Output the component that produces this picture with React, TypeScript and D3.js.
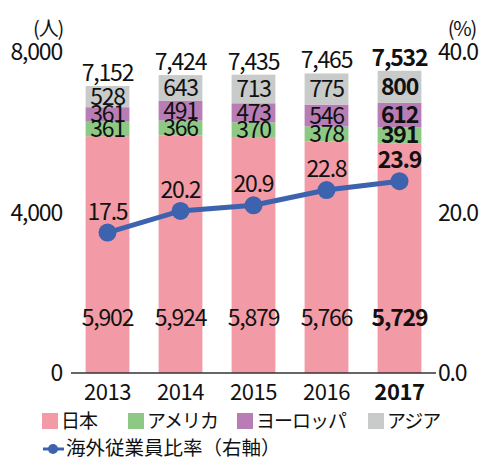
import React, { useEffect, useRef } from 'react';
import * as d3 from 'd3';

// データ
const years = ['2013', '2014', '2015', '2016', '2017'];
const japan = [5902, 5924, 5879, 5766, 5729];
const america = [361, 366, 370, 378, 391];
const europe = [361, 491, 473, 546, 612];
const asia = [528, 643, 713, 775, 800];
const totals = [7152, 7424, 7435, 7465, 7532];
const ratio = [17.5, 20.2, 20.9, 22.8, 23.9];
const leftTicks = [0, 4000, 8000];
const rightTicks = [0, 20, 40];

const seriesNames = ['日本', 'アメリカ', 'ヨーロッパ', 'アジア'];
const colors = ['#f29ba6', '#8dc985', '#b97db6', '#c9caca'];
const lineColor = '#3d62ae';
const font = '"Noto Sans CJK JP", "Noto Sans", sans-serif';

const App = () => {
  const ref = useRef<SVGSVGElement>(null);

  useEffect(() => {
    const svg = d3.select(ref.current);
    svg.selectAll('*').remove();

    const x = d3.scaleBand().domain(years).range([71, 436]).paddingInner(0.4).paddingOuter(0.2);
    const y = d3.scaleLinear().domain([0, 8000]).range([373, 52]);
    const y2 = d3.scaleLinear().domain([0, 40]).range([373, 52]);

    const isLast = (i: number) => i === years.length - 1;
    const weight = (i: number) => (isLast(i) ? 'bold' : 'normal');

    // 積み上げ
    const rows = years.map((yr, i) => ({ year: yr, s0: japan[i], s1: america[i], s2: europe[i], s3: asia[i] }));
    const stack = d3.stack<any>().keys(['s0', 's1', 's2', 's3'])(rows);

    stack.forEach((layer, k) => {
      svg.append('g')
        .selectAll('rect')
        .data(layer)
        .enter()
        .append('rect')
        .attr('x', (d: any) => x(d.data.year)!)
        .attr('y', d => y(d[1]))
        .attr('width', x.bandwidth())
        .attr('height', d => y(d[0]) - y(d[1]))
        .attr('fill', colors[k]);
    });

    const labelG = svg.append('g')
      .attr('font-family', font)
      .attr('font-size', 23)
      .attr('letter-spacing', -1.2)
      .attr('text-anchor', 'middle')
      .attr('fill', '#111');

    // 日本の値（下部固定位置）
    labelG.selectAll('.jp')
      .data(japan)
      .enter()
      .append('text')
      .attr('x', (d, i) => x(years[i])! + x.bandwidth() / 2)
      .attr('y', 326)
      .attr('font-weight', (d, i) => weight(i))
      .text(d => d3.format(',')(d));

    // その他の値（セグメント中央）
    stack.slice(1).forEach(layer => {
      labelG.append('g')
        .selectAll('text')
        .data(layer)
        .enter()
        .append('text')
        .attr('x', (d: any) => x(d.data.year)! + x.bandwidth() / 2)
        .attr('y', d => (y(d[0]) + y(d[1])) / 2 + 8)
        .attr('font-weight', (d, i) => weight(i))
        .text(d => d3.format(',')(d[1] - d[0]));
    });

    // 合計
    labelG.selectAll('.tot')
      .data(totals)
      .enter()
      .append('text')
      .attr('x', (d, i) => x(years[i])! + x.bandwidth() / 2)
      .attr('y', d => y(d) - 5)
      .attr('font-weight', (d, i) => weight(i))
      .text(d => d3.format(',')(d));

    // 比率の線
    const line = d3.line<number>()
      .x((d, i) => x(years[i])! + x.bandwidth() / 2)
      .y(d => y2(d));

    svg.append('path')
      .datum(ratio)
      .attr('fill', 'none')
      .attr('stroke', lineColor)
      .attr('stroke-width', 5)
      .attr('d', line);

    svg.selectAll('.dot')
      .data(ratio)
      .enter()
      .append('circle')
      .attr('cx', (d, i) => x(years[i])! + x.bandwidth() / 2)
      .attr('cy', d => y2(d))
      .attr('r', 9)
      .attr('fill', lineColor);

    labelG.selectAll('.rt')
      .data(ratio)
      .enter()
      .append('text')
      .attr('x', (d, i) => x(years[i])! + x.bandwidth() / 2)
      .attr('y', d => y2(d) - 13)
      .attr('font-weight', (d, i) => weight(i))
      .text(d => d3.format('.1f')(d));

    // 軸
    svg.append('line')
      .attr('x1', 71).attr('x2', 436)
      .attr('y1', y(0)).attr('y2', y(0))
      .attr('stroke', '#333')
      .attr('stroke-width', 1.5);

    const axisG = svg.append('g')
      .attr('font-family', font)
      .attr('font-size', 23)
      .attr('letter-spacing', -1.2)
      .attr('fill', '#111');

    axisG.selectAll('.lt')
      .data(leftTicks)
      .enter()
      .append('text')
      .attr('x', 62)
      .attr('y', d => y(d) + 8)
      .attr('text-anchor', 'end')
      .text(d => d3.format(',')(d));

    axisG.selectAll('.rtk')
      .data(rightTicks)
      .enter()
      .append('text')
      .attr('x', 438)
      .attr('y', d => y2(d) + 8)
      .attr('text-anchor', 'start')
      .text(d => d3.format('.1f')(d));

    axisG.append('text').attr('x', 63).attr('y', 36).attr('text-anchor', 'end').attr('font-size', 20).text('(人)');
    axisG.append('text').attr('x', 476).attr('y', 36).attr('text-anchor', 'end').attr('font-size', 20).text('(%)');

    axisG.selectAll('.yr')
      .data(years)
      .enter()
      .append('text')
      .attr('x', d => x(d)! + x.bandwidth() / 2)
      .attr('y', 400)
      .attr('text-anchor', 'middle')
      .attr('font-size', 22)
      .attr('letter-spacing', -0.4)
      .attr('font-weight', (d, i) => weight(i))
      .text(d => d);

    // 凡例
    const legendX = [42, 128, 237, 368];
    const leg = svg.append('g')
      .attr('font-family', font)
      .attr('font-size', 19)
      .attr('letter-spacing', -1)
      .attr('fill', '#111');

    seriesNames.forEach((name, k) => {
      leg.append('rect')
        .attr('x', legendX[k]).attr('y', 413)
        .attr('width', 16).attr('height', 16)
        .attr('fill', colors[k]);
      leg.append('text')
        .attr('x', legendX[k] + 19).attr('y', 428)
        .text(name);
    });

    leg.append('line')
      .attr('x1', 43).attr('x2', 64)
      .attr('y1', 449).attr('y2', 449)
      .attr('stroke', lineColor).attr('stroke-width', 3);
    leg.append('circle').attr('cx', 53).attr('cy', 449).attr('r', 5).attr('fill', lineColor);
    leg.append('text')
      .attr('x', 66).attr('y', 455)
      .attr('font-size', 19.5)
      .attr('letter-spacing', 0)
      .text('海外従業員比率（右軸）');
  }, []);

  return (
    <svg ref={ref} width={484} height={458} style={{ position: 'absolute', left: 0, top: 0 }}></svg>
  );
};

export default App;
